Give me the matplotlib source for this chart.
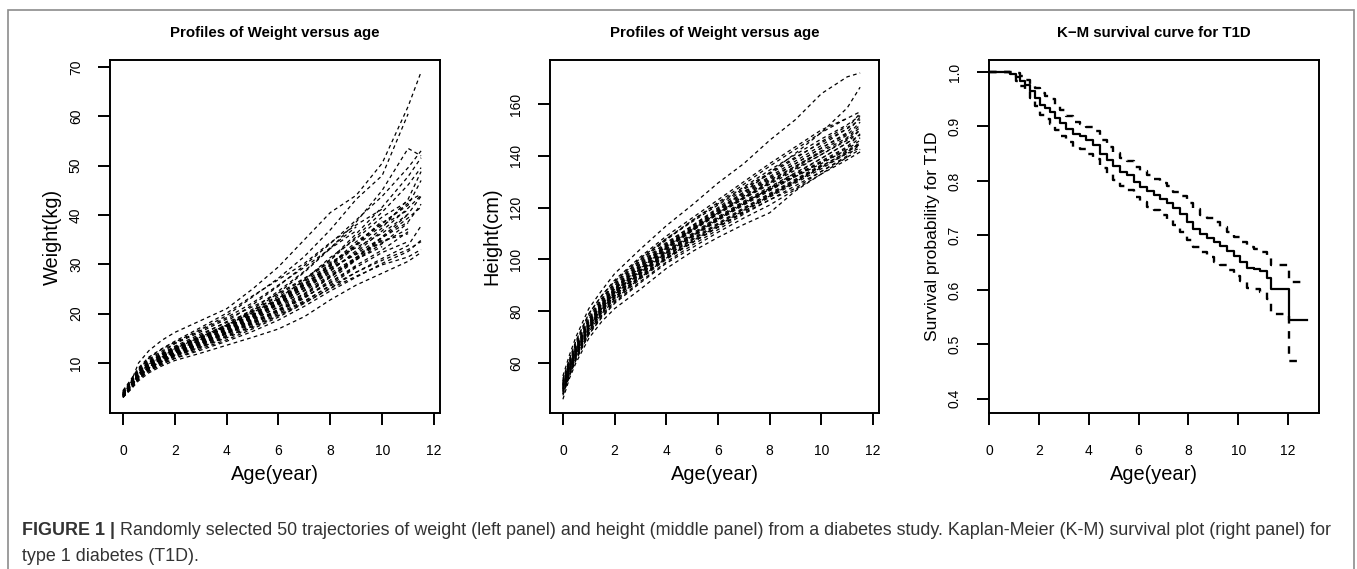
import numpy as np
import matplotlib
matplotlib.use("Agg")
import matplotlib.pyplot as plt
from matplotlib.patches import Rectangle

plt.rcParams['font.family'] = ['Liberation Sans', 'DejaVu Sans']

# ---------------- data ----------------
age_grid_w = [0, 0.3, 0.6, 1, 1.5, 2, 3, 4, 5, 6, 7, 8, 9, 10, 11, 11.5]
weight_traj = [
    [3.5, 6.0, 10.0, 12.5, 14.6, 16.2, 18.6, 21.0, 25.0, 29.5, 35.0, 40.5, 44.0, 50.5, 62.0, 69.0],
    [4.0, 6.2, 8.6, 11.0, 12.8, 14.2, 16.8, 19.6, 23.4, 27.2, 31.6, 37.0, 43.2, 48.0, 60.5],
    [3.2, 5.4, 7.4, 9.2, 10.9, 12.4, 14.8, 17.6, 20.6, 24.2, 28.4, 33.2, 38.6, 45.0, 53.5, 52.0],
    [3.8, 5.9, 8.1, 10.1, 11.6, 13.1, 15.6, 18.4, 21.8, 25.6, 29.8, 34.2, 39.0, 43.8, 49.6, 53.0],
    [3.4, 5.1, 7.0, 8.9, 10.4, 11.9, 13.9, 16.1, 18.6, 21.4, 24.8, 28.6, 32.8, 37.4, 43.2, 48.8],
    [3.0, 4.6, 6.4, 8.0, 9.4, 10.5, 12.0, 13.6, 15.2, 16.9, 19.4, 22.8, 25.8, 28.2, 30.6, 32.4],
    [3.6, 5.3, 7.2, 9.0, 10.3, 11.6, 13.2, 15.1, 17.2, 19.6, 22.2, 25.2, 28.4, 31.2, 33.8, 37.8],
    [3.3, 5.4, 7.8, 9.8, 11.2, 12.9, 15.3, 17.7, 20.2, 23.1, 26.8, 31.4, 35.2, 39.6, 42.8, 44.2],
    [4.2, 6.3, 8.7, 10.6, 12.1, 13.9, 16.3, 18.9, 21.4, 24.1, 27.2, 30.4, 33.4, 36.3, 40.2, 43.8],
    [3.1, 4.8, 6.8, 8.6, 10.0, 11.3, 13.2, 15.3, 17.6, 20.1, 22.6, 25.6, 28.4, 30.8, 33.0, 34.6],
    [3.7, 5.6, 7.9, 9.6, 11.3, 12.6, 14.6, 16.9, 19.4, 22.4, 25.9, 29.6, 34.1, 38.8],
    [3.5, 5.5, 7.5, 9.3, 10.8, 12.0, 14.1, 16.4, 18.9, 21.8, 24.6, 27.8, 31.2, 35.6, 40.1],
    [4.4, 6.6, 9.0, 11.2, 12.9, 14.4, 17.2, 20.1, 23.6, 26.9, 30.2, 34.4, 38.0, 41.2],
    [3.3, 5.2, 7.1, 8.8, 10.2, 11.7, 13.6, 15.6, 17.9, 20.4, 23.1, 26.8, 30.9, 34.2, 38.4],
    [3.9, 5.9, 8.3, 10.2, 11.9, 13.4, 15.9, 18.2, 20.6, 23.4, 26.6, 30.8, 35.6, 40.6, 46.1, 49.6],
    [3.6, 5.7, 7.7, 9.5, 11.0, 12.5, 14.5, 16.6, 19.1, 21.9, 25.3, 29.2, 33.7],
    [3.2, 5.0, 7.0, 8.7, 10.1, 11.6, 13.7, 15.9, 18.2, 20.9, 23.9, 27.4, 31.4, 35.0],
    [4.1, 6.1, 8.4, 10.4, 11.8, 13.2, 15.4, 17.8, 20.9, 24.6, 28.6, 33.4, 37.6],
    [3.4, 5.3, 7.4, 9.1, 10.6, 12.2, 14.4, 16.7, 19.2, 22.2, 25.6, 29.2, 32.2, 35.4, 39.4, 41.6],
    [3.8, 5.8, 8.0, 9.9, 11.5, 12.8, 15.0, 17.3, 19.8, 22.6, 25.8, 29.9, 34.6, 38.2, 42.4],
    [3.0, 4.9, 6.8, 8.4, 9.8, 11.0, 12.9, 14.7, 16.9, 19.3, 22.1, 25.1, 27.6, 29.9, 31.5, 33.0],
    [3.5, 5.6, 7.6, 9.4, 10.9, 12.3, 14.2, 16.2, 18.4, 20.8, 23.3, 26.4, 29.8, 32.9, 36.6],
    [4.0, 6.0, 8.2, 10.0, 11.6, 13.0, 15.2, 17.6, 20.4, 23.8, 27.0, 31.0, 36.2, 41.6, 47.8, 51.6],
    [3.3, 5.2, 7.3, 9.2, 10.7, 12.0, 14.0, 16.0, 18.0, 20.6, 23.4, 26.2, 29.6],
    [3.7, 5.7, 7.9, 9.7, 11.2, 12.7, 14.9, 17.4, 20.2, 23.0, 26.1, 29.2, 32.0, 34.4, 37.2],
    [3.1, 4.9, 6.7, 8.3, 9.7, 10.9, 12.6, 14.4, 16.4, 18.7, 21.5, 24.6, 27.4, 30.2, 32.6, 34.9],
    [3.6, 5.5, 7.6, 9.5, 11.1, 12.4, 14.7, 17.1, 19.6, 22.1, 25.2, 28.8, 32.4, 36.8, 41.4, 44.0],
    [4.3, 6.4, 8.8, 10.8, 12.4, 14.0, 16.6, 19.2, 22.2, 25.8, 29.4, 33.2, 36.8],
    [3.4, 5.4, 7.5, 9.2, 10.5, 11.8, 13.8, 16.0, 18.2, 20.6, 23.6, 27.4, 31.0, 33.6],
    [3.9, 5.8, 8.0, 9.9, 11.3, 12.7, 15.0, 17.2, 19.7, 22.9, 26.4, 30.1, 33.8, 37.9, 41.0],
    [3.2, 5.1, 7.1, 8.9, 10.3, 11.4, 13.4, 15.4, 17.4, 19.8, 22.4, 25.8, 29.4, 32.4, 34.6],
    [3.6, 5.5, 7.7, 9.6, 11.0, 12.6, 14.6, 16.8, 19.4, 22.0, 25.2, 28.2, 31.4, 35.4, 38.6, 42.2],
    [3.5, 5.3, 7.3, 9.1, 10.7, 12.1, 14.3, 16.3, 18.8, 21.3, 24.1, 27.6, 31.0, 34.8, 36.2],
    [3.8, 5.9, 8.1, 10.1, 11.7, 13.1, 15.2, 17.4, 19.9, 22.8, 26.0, 29.8, 34.0, 38.4, 42.0, 47.0],
]

age_grid_h = [0, 0.25, 0.5, 1, 1.5, 2, 3, 4, 5, 6, 7, 8, 9, 10, 11, 11.5]
height_traj = [
    [55, 63, 70, 81, 88, 94.5, 104, 113, 121, 129.5, 137, 146, 154, 164, 170.5, 172],
    [46, 54, 60, 69.5, 76, 81, 88.5, 96.5, 103, 108.5, 113.5, 118, 126.5, 133, 139.5, 142.5],
    [50, 57, 63.5, 73.5, 80.5, 86, 95, 102.5, 109, 115.5, 121.5, 127, 133, 139, 145, 150],
    [52, 59, 65.5, 76, 83, 89, 98, 105.5, 112.5, 119, 125.5, 131.5, 137, 143, 149, 155],
    [49, 56, 62.5, 72.5, 79.5, 85, 93.5, 101, 107.5, 113.5, 119.5, 125, 130.5, 136, 141.5, 145],
    [53, 60, 67, 77, 84.5, 90.5, 99.5, 107.5, 115, 122, 129, 136, 142.5, 149, 154.5, 157],
    [51.5, 58.5, 65, 75.5, 82.5, 88.5, 97.5, 105, 112, 119, 126, 133.5, 141, 149, 158.5, 166.5],
    [50.5, 57.5, 64, 74, 81, 87, 95.5, 103, 109.5, 116, 122, 127.5, 132.5, 137.5, 142, 145],
    [48, 55, 61.5, 71, 78, 83.5, 91.5, 99, 105.5, 111.5, 117.5, 123, 128.5, 134, 139.5],
    [52.5, 59.5, 66, 77, 84, 90, 99, 106.5, 113, 119.5, 126, 132, 138, 144, 150.5, 156.5],
    [51, 58, 64.5, 74.5, 81.5, 87.5, 96, 103.5, 110, 116.5, 122.5, 128, 133.5, 139, 145, 148],
    [49.5, 56.5, 63, 73, 80, 85.5, 94, 101.5, 108, 114, 120, 125.5, 131, 136.5],
    [53.5, 61, 68, 79, 86, 92, 101, 109, 116, 123, 130, 137, 143.5, 150, 154.5],
    [50, 57, 63.5, 73, 80, 86, 94.5, 102, 108.5, 115, 121, 126.5, 132, 137.5, 143, 147],
    [47.5, 55, 61, 71, 77.5, 83, 91, 98.5, 104.5, 110.5, 116, 121, 127, 133, 138.5, 141.5],
    [52, 59, 65.5, 75.5, 82.5, 88.5, 97, 105, 111.5, 118, 124.5, 130.5, 136, 141.5, 147, 152],
    [51, 58.5, 65, 75, 82, 88, 96.5, 104, 111, 117.5, 123.5, 129.5, 135.5, 141.5],
    [49, 56.5, 63, 72.5, 79.5, 85.5, 93.5, 100.5, 106.5, 112.5, 118, 123, 127.5, 134, 140, 144.5],
    [54, 61.5, 68.5, 79, 86, 91.5, 100.5, 108, 115, 121.5, 128, 134.5, 140.5, 146.5, 152, 155.5],
    [50.5, 58, 64.5, 74.5, 81.5, 87.5, 96.5, 104.5, 111.5, 118, 124, 129.5, 135, 140.5, 146, 150],
    [48.5, 55.5, 62, 71.5, 78.5, 84, 92.5, 100, 106.5, 112.5, 118.5, 124, 129.5, 135, 141],
    [52.5, 60, 66.5, 76.5, 83.5, 89.5, 98.5, 106, 113, 120, 127, 133, 139, 145.5, 151.5],
    [51.5, 58.5, 65, 75, 82, 87.5, 95.5, 103, 109.5, 116, 122, 127, 132, 137, 142.5, 146],
    [49.5, 57, 63.5, 73.5, 80.5, 86.5, 95, 102.5, 109, 115.5, 121.5, 127.5, 133.5],
    [53, 60.5, 67.5, 78, 85, 91, 100, 108, 114.5, 121, 127.5, 133.5, 139.5, 145, 150.5, 154],
    [50, 57.5, 64, 74, 81, 86.5, 94.5, 101.5, 107.5, 113.5, 119.5, 125, 130.5, 136, 141.5, 144.5],
    [51, 58, 64, 74, 81, 87, 96, 104, 111, 117.5, 123.5, 129, 134.5, 140.5, 146.5, 151],
    [48, 55.5, 62, 72, 79, 84.5, 93, 100.5, 107, 113, 119, 124.5, 130, 135.5, 141, 143],
    [52, 59, 66, 76, 83, 89, 98, 105.5, 112, 118.5, 125, 131, 137, 143, 148.5],
    [50.5, 57.5, 64, 74, 81, 87, 95.5, 102.5, 109, 115.5, 121.5, 127, 132.5, 138, 143.5, 148.5],
    [49, 56, 62.5, 72.5, 79.5, 85, 93, 100.5, 106.5, 112.5, 118.5, 124.5, 130, 136],
    [51.5, 59, 65.5, 75.5, 82.5, 88.5, 97, 104.5, 111.5, 118, 124, 130, 136, 142, 148, 153],
]

km_time = [0, 0.83, 1.1, 1.25, 1.45, 1.65, 1.85, 2.05, 2.25, 2.45, 2.65, 2.85, 3.1, 3.38,
           3.65, 3.91, 4.18, 4.45, 4.72, 4.99, 5.25, 5.52, 5.8, 6.06, 6.33, 6.6, 6.87, 7.13,
           7.4, 7.67, 7.94, 8.2, 8.47, 8.74, 9.01, 9.28, 9.54, 9.81, 10.08, 10.35, 10.62,
           10.88, 11.15, 11.31, 12.02]
km_end = 12.75
ci_end = 12.58
km_surv = [1.0, 0.997, 0.99, 0.984, 0.976, 0.965, 0.952, 0.939, 0.933, 0.926, 0.916, 0.906,
           0.896, 0.886, 0.882, 0.875, 0.866, 0.85, 0.838, 0.827, 0.816, 0.81, 0.798, 0.789,
           0.781, 0.775, 0.767, 0.759, 0.75, 0.739, 0.725, 0.712, 0.703, 0.695, 0.688, 0.681,
           0.672, 0.663, 0.652, 0.641, 0.639, 0.634, 0.622, 0.601, 0.545]
km_upper = [1.0, 1.0, 0.998, 0.993, 0.986, 0.978, 0.97, 0.962, 0.955, 0.95, 0.94, 0.93,
            0.92, 0.909, 0.905, 0.899, 0.892, 0.876, 0.862, 0.851, 0.843, 0.837, 0.826, 0.818,
            0.81, 0.804, 0.797, 0.79, 0.78, 0.773, 0.76, 0.748, 0.738, 0.732, 0.725, 0.715,
            0.707, 0.698, 0.688, 0.678, 0.675, 0.67, 0.659, 0.645, 0.615]
km_lower = [1.0, 0.994, 0.983, 0.975, 0.965, 0.953, 0.937, 0.921, 0.914, 0.904, 0.893, 0.883,
            0.872, 0.862, 0.858, 0.85, 0.84, 0.824, 0.812, 0.801, 0.79, 0.783, 0.771, 0.762,
            0.752, 0.746, 0.737, 0.728, 0.72, 0.706, 0.692, 0.679, 0.669, 0.66, 0.652, 0.645,
            0.636, 0.626, 0.616, 0.604, 0.601, 0.597, 0.584, 0.555, 0.47]

age_ticks = [0, 2, 4, 6, 8, 10, 12]
weight_ticks = [10, 20, 30, 40, 50, 60, 70]
height_ticks = [60, 80, 100, 120, 140, 160]
surv_ticks = [0.4, 0.5, 0.6, 0.7, 0.8, 0.9, 1.0]

titles = ["Profiles of Weight versus age", "Profiles of Weight versus age", "K\u2212M survival curve for T1D"]
ylabels = ["Weight(kg)", "Height(cm)", "Survival probability for T1D"]
xlabel = "Age(year)"
caption_bold = "FIGURE 1 |"
caption_1 = " Randomly selected 50 trajectories of weight (left panel) and height (middle panel) from a diabetes study. Kaplan-Meier (K-M) survival plot (right panel) for"
caption_2 = "type 1 diabetes (T1D)."

# ---------------- figure ----------------
W, H = 1357, 569
fig = plt.figure(figsize=(W / 100, H / 100), dpi=100)

def rect(l, r, t, b):
    return [l / W, 1 - b / H, (r - l) / W, (b - t) / H]

# outer frame (bottom edge runs off the image)
fig.add_artist(Rectangle((8 / W, -0.05), (1354 - 8) / W, 1.05 - 10 / H,
                         transform=fig.transFigure, fill=False, ec='#8c8c8c', lw=1.2))

boxes = [(110, 440), (550, 879), (989, 1319)]
axes = [fig.add_axes(rect(l, r, 60, 413)) for (l, r) in boxes]

def style(ax, yticks, ylabfmt=None):
    for s in ax.spines.values():
        s.set_linewidth(1.4)
    ax.set_xticks(age_ticks)
    ax.set_yticks(yticks)
    if ylabfmt:
        ax.set_yticklabels([ylabfmt.format(v) for v in yticks])
    ax.tick_params(axis='both', direction='out', length=8.5, width=1.4, labelsize=10, colors='black')
    ax.tick_params(axis='x', pad=14)
    ax.tick_params(axis='y', pad=11, labelrotation=90)
    for lab in ax.get_yticklabels():
        lab.set_va('center')

dash = (0, (3, 2.6))

ax = axes[0]
for vals in weight_traj:
    ax.plot(age_grid_w[:len(vals)], vals, color='black', lw=0.9, linestyle=dash)
ax.set_xlim(-0.5, 12.23)
ax.set_ylim(-0.14, 71.42)
style(ax, weight_ticks)

ax = axes[1]
for vals in height_traj:
    ax.plot(age_grid_h[:len(vals)], vals, color='black', lw=0.9, linestyle=dash)
ax.set_xlim(-0.5, 12.23)
ax.set_ylim(40.7, 177.0)
style(ax, height_ticks)

ax = axes[2]
ax.step(km_time + [km_end], km_surv + [km_surv[-1]], where='post', color='black', lw=1.6)
ax.step(km_time + [ci_end], km_upper + [km_upper[-1]], where='post', color='black', lw=1.7,
        linestyle=(0, (3.2, 3.2)))
ax.step(km_time + [ci_end], km_lower + [km_lower[-1]], where='post', color='black', lw=1.7,
        linestyle=(0, (3.2, 3.2)))
ax.set_xlim(0, 13.24)
ax.set_ylim(0.374, 1.022)
style(ax, surv_ticks, "{:.1f}")

# titles / labels
ylab_x = [52, 492, 932]
ylab_size = [14.4, 14.4, 12.6]
for (l, r), t, yl, yx, ys in zip(boxes, titles, ylabels, ylab_x, ylab_size):
    cx = (l + r) / 2 / W
    fig.text(cx, 1 - 33 / H, t, ha='center', va='center', fontsize=10.8, fontweight='bold')
    fig.text(cx, 1 - 475 / H, xlabel, ha='center', va='center', fontsize=14.4)
    fig.text(yx / W, 1 - 236.5 / H, yl, ha='center', va='center', rotation=90, fontsize=ys)

# caption
cax = fig.add_axes([0, 0, 1, 1])
cax.set_axis_off()
cax.set_xlim(0, 1)
cax.set_ylim(0, 1)
cap_size = 12.9
t1 = cax.text(22 / W, 1 - 535 / H, caption_bold, fontsize=cap_size, fontweight='bold',
              color='#333333', va='baseline', ha='left')
cax.annotate(caption_1, xy=(1, 0), xycoords=t1, va='bottom', ha='left',
             fontsize=cap_size, color='#333333')
cax.text(22 / W, 1 - 561 / H, caption_2, fontsize=cap_size, color='#333333', va='baseline', ha='left')

fig.savefig("out.png", dpi=100)
